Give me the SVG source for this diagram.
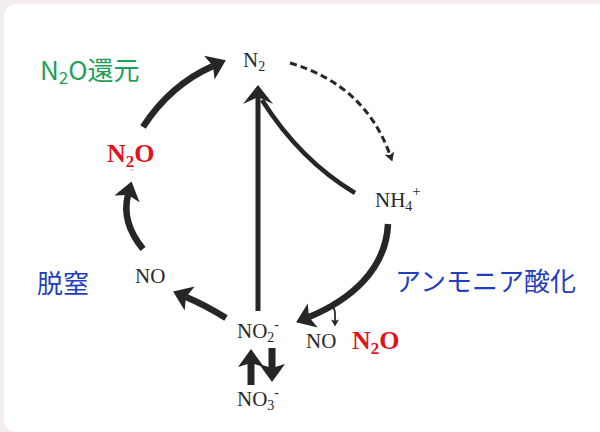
<svg xmlns="http://www.w3.org/2000/svg" width="600" height="432" viewBox="0 0 600 432">
<style>
.ser{font-family:"Liberation Serif","Times New Roman",serif;font-size:21px;fill:#2a2a2a}
.red{font-family:"Liberation Serif","Times New Roman",serif;font-size:26px;font-weight:bold;fill:#e3121b}
.jp{font-family:"Noto Sans CJK JP","Noto Sans",sans-serif;font-size:26px}
.thick{fill:none;stroke:#262626;stroke-width:6.5}
</style>
<defs>
<marker id="ah" markerUnits="userSpaceOnUse" markerWidth="30" markerHeight="30" refX="4" refY="0" orient="auto" overflow="visible">
<path d="M0,-13 L18,0 L0,13 L4,0 Z" fill="#262626"/>
</marker>
<marker id="ahL" markerUnits="userSpaceOnUse" markerWidth="30" markerHeight="30" refX="7" refY="0" orient="auto" overflow="visible">
<path d="M0,-15 L19,0 L0,15 L7,0 Z" fill="#262626"/>
</marker>
<marker id="ahS" markerUnits="userSpaceOnUse" markerWidth="12" markerHeight="12" refX="2" refY="0" orient="auto" overflow="visible">
<path d="M0,-5 L9,0 L0,5 L2,0 Z" fill="#262626"/>
</marker>
<marker id="ahT" markerUnits="userSpaceOnUse" markerWidth="10" markerHeight="10" refX="1.5" refY="0" orient="auto" overflow="visible">
<path d="M0,-4 L7,0 L0,4 L1.5,0 Z" fill="#262626"/>
</marker>
</defs>
<rect x="0" y="0" width="600" height="432" fill="#f3ecec"/>
<rect x="4" y="4" width="620" height="428" rx="12" fill="#ffffff"/>

<g id="connectors">
<path class="thick" d="M143,127 Q170,85 213,66" marker-end="url(#ah)"/>
<path class="thick" d="M143,249 Q121,222 128,195" marker-end="url(#ah)"/>
<path class="thick" d="M226,318 Q205,305 186,297" marker-end="url(#ah)"/>
<path class="thick" d="M388,224 C386,270 350,300 309,317" marker-end="url(#ah)"/>
<path fill="none" stroke="#262626" stroke-width="1.8" d="M331,306 C336,308 335,314 335,321" marker-end="url(#ahT)"/>
<path fill="none" stroke="#262626" stroke-width="3" stroke-dasharray="7 4" d="M290,63 Q365,85 390,155" marker-end="url(#ahS)"/>
<path fill="none" stroke="#262626" stroke-width="5" d="M258,311 L258,97" marker-end="url(#ahL)"/>
<path fill="none" stroke="#262626" stroke-width="4.5" d="M355,193 Q300,160 262,100"/>
<path fill="none" stroke="#262626" stroke-width="7" d="M251,385 L251,363" marker-end="url(#ah)"/>
<path fill="none" stroke="#262626" stroke-width="7" d="M272,348 L272,368" marker-end="url(#ah)"/>
</g>

<g id="n2"><text class="ser" x="243" y="67">N<tspan font-size="14" dy="4">2</tspan></text></g>
<g id="nh4"><text class="ser" x="375" y="207">NH<tspan font-size="14" dy="4">4</tspan><tspan font-size="15" dy="-15">+</tspan></text></g>
<g id="no-left"><text class="ser" x="135" y="283">NO</text></g>
<g id="no2"><text class="ser" x="237" y="338">NO<tspan font-size="14" dy="4">2</tspan><tspan font-size="14" dy="-13">-</tspan></text></g>
<g id="no3"><text class="ser" x="237" y="406">NO<tspan font-size="14" dy="4">3</tspan><tspan font-size="14" dy="-13">-</tspan></text></g>
<g id="no-right"><text class="ser" x="306" y="348">NO</text></g>
<g id="n2o-left"><text class="red" x="107" y="162">N<tspan font-size="17" dy="5">2</tspan><tspan dy="-5">O</tspan></text>
<rect x="130.5" y="169.5" width="3" height="1" fill="#aaaaaa"/></g>
<g id="n2o-right"><text class="red" x="352" y="349">N<tspan font-size="17" dy="5">2</tspan><tspan dy="-5">O</tspan></text></g>

<g id="label-n2o-reduction"><text class="jp" x="40" y="80" fill="#1fa05a">N<tspan font-size="17" dy="4">2</tspan><tspan dy="-4">O還元</tspan></text></g>
<g id="label-denitrification"><text class="jp" x="37" y="293" font-size="27" fill="#1f3fbf">脱窒</text></g>
<g id="label-ammonia-oxidation"><text class="jp" x="395" y="291" fill="#1f3fbf">アンモニア酸化</text></g>
</svg>
